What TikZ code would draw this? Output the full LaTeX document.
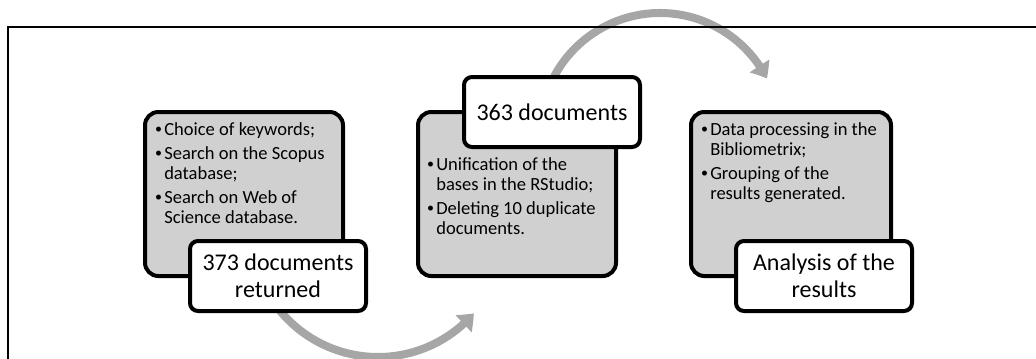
\documentclass[tikz,border=0pt]{standalone}
\usepackage{fontspec}
\setmainfont{Carlito}
\usetikzlibrary{arrows.meta,bending,calc}
\definecolor{boxgray}{HTML}{D0D0D0}
\definecolor{arrowgray}{HTML}{A6A6A6}
\newcommand{\bl}{\makebox[7.5pt][l]{\hspace{0.6pt}\raisebox{0.9pt}{\fontsize{10.5pt}{10.5pt}\selectfont\textbullet}}}
\newcommand{\ind}{\hspace*{7.5pt}}
\begin{document}
\begin{tikzpicture}[x=0.75pt,y=-0.75pt,
  frame/.style={draw=black,line width=1.1pt},
  stepbox/.style={draw=black,line width=3pt,fill=boxgray,rounded corners=10pt,inner sep=0pt},
  labelbox/.style={draw=black,line width=3pt,fill=white,rounded corners=6pt,inner sep=0pt,
    align=center,font=\fontsize{18pt}{20.25pt}\selectfont,minimum width=132pt,minimum height=52.5pt},
  flow/.style={draw=arrowgray,line width=6pt,-{Triangle[length=11pt,width=17pt,bend]}},
  bodytext/.style={anchor=north west,inner sep=0pt,align=left,font=\fontsize{13.9pt}{15pt}\selectfont}
]
\useasboundingbox (0,0) rectangle (1036,358);
% arcs
\coordinate (a1s) at ($(378,230)+(145:127)$);
\coordinate (a2s) at ($(660,133)+(205:120)$);
\draw[flow] (a1s) arc[start angle=145, end angle=41, radius=127];
\draw[flow] (a2s) arc[start angle=205, end angle=333, radius=120];
% frame
\draw[frame] (8,27) rectangle (1050,375);
% step boxes
\node[stepbox,minimum width=148.5pt,minimum height=123pt] (b1) at (244,194) {};
\node[stepbox,minimum width=148.5pt,minimum height=123pt] (b2) at (517,194) {};
\node[stepbox,minimum width=150pt,minimum height=123pt] (b3) at (791,194) {};
% body texts
\node[bodytext] (t1) at (154,122) {\bl Choice of keywords;\\[3pt]\bl Search on the Scopus\\\ind database;\\[3pt]\bl Search on Web of\\\ind Science database.};
\node[bodytext] (t2) at (426,157) {\bl Unification of the\\\ind bases in the RStudio;\\[3pt]\bl Deleting 10 duplicate\\\ind documents.};
\node[bodytext] (t3) at (700,122) {\bl Data processing in the\\\ind Bibliometrix;\\[3pt]\bl Grouping of the\\\ind results generated.};
% labels
\node[labelbox] (l1) at (278,276) {373 documents\\returned};
\node[labelbox] (l2) at (552,112) {363 documents};
\node[labelbox] (l3) at (824,276) {Analysis of the\\results};
\end{tikzpicture}
\end{document}
